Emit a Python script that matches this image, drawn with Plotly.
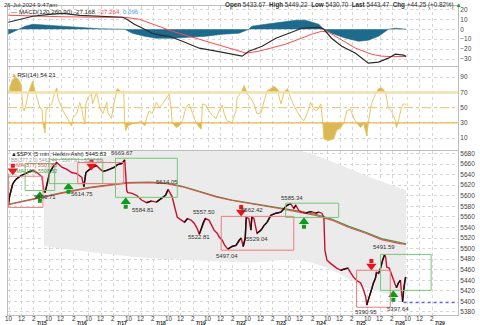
import plotly.graph_objects as go
from plotly.subplots import make_subplots

# ---------------- data (bar = 5-minute bar number counted from 7/12 9:30) ----------------
BARS_PER_DAY = 78
day_labels = ["7/12", "7/15", "7/16", "7/17", "7/18", "7/19", "7/22", "7/23", "7/24", "7/25", "7/26", "7/29"]
hour_labels = ["10", "12", "2"]
hour_bars = [6, 30, 54]

price_bar = [4, 7, 13, 19, 27, 37, 46, 52, 60, 66, 70, 72, 74, 76, 80, 85, 93, 99, 109, 119, 128, 138, 148, 152,
             156, 163, 169, 177, 183, 189, 197, 202, 212, 218, 226, 230, 232, 234, 236, 238, 245, 255, 265, 275,
             284, 294, 304, 312, 317, 321, 325, 329, 335, 343, 349, 355, 362, 368, 374, 378, 382, 386, 390, 397,
             403, 407, 413, 417, 423, 428, 434, 442, 450, 456, 460, 464, 468, 470, 475, 479, 481, 485, 489, 491,
             499, 505, 511, 518, 528, 538, 544, 550, 557, 563, 567, 573, 579, 587, 592, 598, 606, 612, 618, 622,
             624, 628, 635, 641, 647, 655, 661, 669, 674, 680, 686, 694, 700, 704, 706, 709, 715, 719, 723, 725,
             729, 733, 737, 741, 743, 745, 750, 754, 760, 764, 768, 772, 774, 776, 778, 780, 782, 783]
price_val = [5582, 5601, 5623, 5631, 5637, 5642, 5646, 5648, 5644, 5640, 5636, 5620, 5608, 5606, 5622, 5644, 5657,
             5663, 5654, 5650, 5644, 5642, 5635, 5617, 5644, 5650, 5654, 5657, 5652, 5646, 5648, 5650, 5654, 5659,
             5661, 5665, 5668, 5640, 5610, 5606, 5605, 5601, 5592, 5587, 5590, 5588, 5595, 5601, 5612, 5606, 5598,
             5582, 5559, 5554, 5550, 5557, 5554, 5548, 5538, 5527, 5538, 5550, 5557, 5554, 5544, 5535, 5529, 5522,
             5516, 5506, 5499, 5504, 5506, 5516, 5520, 5504, 5520, 5559, 5557, 5535, 5560, 5557, 5540, 5529, 5535,
             5544, 5550, 5563, 5567, 5569, 5576, 5582, 5585, 5576, 5582, 5572, 5569, 5567, 5569, 5570, 5567, 5569,
             5567, 5559, 5497, 5478, 5472, 5467, 5463, 5459, 5461, 5463, 5455, 5446, 5440, 5435, 5421, 5408, 5393,
             5403, 5421, 5435, 5444, 5455, 5453, 5463, 5478, 5489, 5484, 5465, 5463, 5453, 5437, 5426, 5435, 5440,
             5416, 5399, 5420, 5435, 5446, 5443.47]

ma_bar = [4, 46, 105, 163, 236, 281, 314, 345, 378, 411, 442, 475, 508, 540, 573, 606, 637, 671, 704, 735, 768, 783]
ma377_val = [5583, 5592, 5604, 5615, 5624, 5625, 5623, 5617, 5607, 5598, 5591, 5586, 5580, 5575, 5569, 5563, 5554,
             5540, 5529, 5517, 5510, 5507.80]
ma190_val = [5584, 5593, 5605, 5616, 5625, 5626, 5624, 5618, 5608, 5599, 5592, 5587, 5581, 5576, 5571, 5565, 5556,
             5542, 5531, 5519, 5511, 5508.82]

bb_bar = [74, 150, 215, 280, 360, 420, 480, 573, 632, 700, 740, 783]
bb_upper = [5655, 5667, 5678, 5692, 5705, 5705, 5700, 5686, 5667, 5640, 5625, 5610]
bb_lower = [5505, 5495, 5488, 5482, 5478, 5476, 5474, 5478, 5462, 5428, 5416, 5408]

macd_bar = [4, 27, 52, 85, 111, 144, 183, 228, 236, 251, 267, 286, 300, 319, 345, 378, 411, 442, 462, 475, 501, 528,
            553, 579, 612, 622, 637, 657, 684, 709, 729, 748, 762, 778, 783]
macd_val = [7, 10, 13, 15, 16, 14, 13, 12, 10, 5, 1, -4, -6, -7, -12, -19, -22, -25, -27, -22, -17, -9, -4, 1, 2, 0,
            -9, -17, -24, -34, -33, -29, -25, -26, -27.168]
signal_bar = [4, 52, 111, 183, 232, 261, 294, 325, 358, 391, 426, 456, 470, 495, 520, 547, 573, 598, 618, 631, 651,
              684, 715, 735, 758, 783]
signal_val = [14, 13, 12.5, 12, 12, 10, 4, -2, -7, -12, -17, -22, -24, -22, -19, -15, -10, -5, -2, -3, -9, -19, -25,
              -27, -27.5, -27.264]
hist_bar = [4, 17, 27, 37, 52, 85, 119, 150, 183, 232, 247, 271, 294, 325, 358, 391, 423, 456, 475, 481, 508, 534,
            567, 586, 612, 622, 637, 665, 690, 709, 729, 743, 748, 762, 778, 783]
hist_val = [-5, -2, 0, 3, 5, 4, 3, 2, 0.5, 0, -4, -7, -9, -9, -8, -7, -5, -4, 0, 3, 5, 7, 9, 9, 5, 0, -4, -9, -12,
            -11, -7, -2, 0, 1, 0.1, 0.096]

rsi_bar = [4, 11, 17, 23, 29, 31, 33, 35, 39, 43, 48, 52, 56, 60, 62, 66, 70, 72, 76, 78, 82, 89, 95, 99, 101, 105,
           111, 119, 124, 128, 130, 138, 144, 148, 150, 154, 156, 160, 167, 169, 177, 183, 189, 197, 199, 206, 212,
           218, 226, 230, 232, 234, 238, 247, 257, 265, 271, 275, 280, 286, 294, 300, 306, 313, 319, 323, 325, 333,
           339, 345, 352, 358, 364, 372, 378, 382, 384, 391, 397, 403, 411, 417, 423, 427, 432, 442, 450, 452, 460,
           466, 470, 472, 479, 485, 491, 499, 505, 511, 518, 524, 530, 538, 544, 550, 557, 563, 569, 577, 583, 589,
           596, 602, 608, 616, 620, 622, 631, 641, 647, 655, 661, 667, 674, 680, 686, 694, 700, 706, 709, 715, 723,
           729, 735, 743, 748, 754, 762, 764, 768, 774, 778, 783]
rsi_val = [68, 85, 90, 88, 81, 68, 49, 46, 55, 68, 79, 85, 72, 63, 57, 50, 48, 29, 17, 46, 50, 55, 70, 76, 63, 57,
           46, 37, 30, 26, 36, 42, 57, 48, 40, 29, 55, 63, 68, 55, 70, 50, 42, 57, 43, 36, 59, 75, 70, 72, 30, 20,
           26, 29, 30, 33, 26, 37, 46, 42, 57, 50, 55, 63, 68, 50, 30, 24, 26, 33, 50, 55, 43, 30, 24, 22, 55, 53,
           46, 40, 36, 46, 53, 42, 33, 30, 46, 63, 70, 79, 72, 68, 62, 55, 42, 43, 59, 72, 75, 78, 75, 55, 70, 75,
           63, 53, 46, 36, 33, 42, 57, 48, 46, 55, 29, 9, 7, 9, 20, 24, 30, 46, 48, 37, 30, 24, 29, 13, 30, 55, 68,
           75, 76, 70, 50, 46, 33, 24, 33, 50, 55, 54.21]

# pattern boxes: start bar, end bar, low, high, kind
box_start = [-40, 4, 37, 84, 140, 214, 421, 547, 686, 733]
box_end = [4, 72, 95, 189, 230, 335, 563, 651, 752, 832]
box_low = [5582, 5578, 5610, 5623, 5623, 5597, 5497, 5559, 5389, 5421]
box_high = [5642, 5637, 5661, 5669, 5663, 5671, 5561, 5586, 5459, 5489]
box_kind = ["buy", "sell", "buy", "buy", "sell", "buy", "sell", "buy", "sell", "buy"]

# signal arrows
sell_bar = [13, 167, 460, 715]
sell_price = [5650, 5659, 5572, 5470]
buy_bar = [66, 122, 234, 583, 758]
buy_price = [5597, 5614, 5586, 5548, 5410]

# swing labels
swing_bar = [76, 148, 226, 267, 315, 378, 388, 432, 481, 491, 559, 740, 705, 768]
swing_price = [5609.71, 5614.75, 5669.67, 5584.81, 5614.05, 5522.81, 5557.50, 5497.04, 5562.42, 5529.04, 5585.34,
               5491.59, 5390.95, 5397.64]
swing_side = ["low", "low", "high", "low", "high", "mid", "high", "low", "high", "low", "high", "high", "low", "low"]
last_low = 5397.64

# ---------------- figure ----------------
W, H = 480, 325
ML, MR, MT, MB = 8, 20, 5, 10
PH = H - MT - MB
XR = [3.5, 884.6]
R_MACD = [-36.8, 23.3]
R_RSI = [-5.1, 103.5]
R_PX = [5374.3, 5685.5]
D_PX = [0.0, 0.532]
D_RSI = [0.535, 0.803]
D_MACD = [0.806, 1.0]
px_per_unit = (D_PX[1] - D_PX[0]) * PH / (R_PX[1] - R_PX[0])

FONT = "Liberation Sans, Arial, sans-serif"
GRID = "#d6d6d6"
BORDER = "#bdbdbd"

fig = make_subplots(rows=3, cols=1, shared_xaxes=True, vertical_spacing=0.003)

# MACD
fig.add_trace(go.Scatter(x=hist_bar, y=hist_val, mode="lines", line=dict(color="#1d6a8c", width=0.6),
                         fill="tozeroy", fillcolor="#1d6a8c", hoverinfo="skip"), row=1, col=1)
fig.add_trace(go.Scatter(x=signal_bar, y=signal_val, mode="lines", line=dict(color="#ff4a4a", width=1),
                         hoverinfo="skip"), row=1, col=1)
fig.add_trace(go.Scatter(x=macd_bar, y=macd_val, mode="lines", line=dict(color="#2a2a2a", width=1.2),
                         hoverinfo="skip"), row=1, col=1)

# RSI
rsi_hi = [max(v, 70) for v in rsi_val]
rsi_lo = [min(v, 30) for v in rsi_val]
fig.add_trace(go.Scatter(x=rsi_bar, y=[70] * len(rsi_bar), mode="lines", line=dict(width=0), hoverinfo="skip"),
              row=2, col=1)
fig.add_trace(go.Scatter(x=rsi_bar, y=rsi_hi, mode="lines", line=dict(width=0), fill="tonexty",
                         fillcolor="#dbb856", hoverinfo="skip"), row=2, col=1)
fig.add_trace(go.Scatter(x=rsi_bar, y=[30] * len(rsi_bar), mode="lines", line=dict(width=0), hoverinfo="skip"),
              row=2, col=1)
fig.add_trace(go.Scatter(x=rsi_bar, y=rsi_lo, mode="lines", line=dict(width=0), fill="tonexty",
                         fillcolor="#dbb856", hoverinfo="skip"), row=2, col=1)
fig.add_trace(go.Scatter(x=rsi_bar, y=rsi_val, mode="lines", line=dict(color="#e8c666", width=1),
                         hoverinfo="skip"), row=2, col=1)

# Price: Bollinger band
fig.add_trace(go.Scatter(x=bb_bar, y=bb_lower, mode="lines", line=dict(width=0, shape="spline"),
                         hoverinfo="skip"), row=3, col=1)
fig.add_trace(go.Scatter(x=bb_bar, y=bb_upper, mode="lines", line=dict(width=0, shape="spline"), fill="tonexty",
                         fillcolor="#ebebeb", hoverinfo="skip"), row=3, col=1)
# moving averages
fig.add_trace(go.Scatter(x=ma_bar, y=ma190_val, mode="lines", line=dict(color="#3f9b3f", width=1.2),
                         hoverinfo="skip"), row=3, col=1)
fig.add_trace(go.Scatter(x=ma_bar, y=ma377_val, mode="lines", line=dict(color="#e25050", width=1.2),
                         hoverinfo="skip"), row=3, col=1)

# boxes
for b0, b1, lo, hi, k in zip(box_start, box_end, box_low, box_high, box_kind):
    fig.add_shape(type="rect", xref="x3", yref="y3", x0=b0, x1=b1, y0=lo, y1=hi,
                  line=dict(color="#77c777" if k == "buy" else "#f07a7a", width=1), fillcolor="rgba(0,0,0,0)")

# price line: red everywhere, black over rising segments
fig.add_trace(go.Scatter(x=price_bar, y=price_val, mode="lines", line=dict(color="#c8102e", width=1.4),
                         hoverinfo="skip"), row=3, col=1)
ux, uy = [], []
for i in range(1, len(price_bar)):
    if price_val[i] > price_val[i - 1]:
        ux += [price_bar[i - 1], price_bar[i], None]
        uy += [price_val[i - 1], price_val[i], None]
fig.add_trace(go.Scatter(x=ux, y=uy, mode="lines", line=dict(color="#111111", width=1.4), connectgaps=False,
                         hoverinfo="skip"), row=3, col=1)

# last low dotted line
fig.add_shape(type="line", xref="x3", yref="y3", x0=price_bar[-4], x1=XR[1], y0=last_low, y1=last_low,
              line=dict(color="#3b3bf0", width=1, dash="dot"))

# arrows
u = 1.0 / px_per_unit
fig.add_trace(go.Scatter(x=sell_bar, y=[p + 3.5 * u for p in sell_price], mode="markers",
                         marker=dict(symbol="square", size=4, color="#e8141c", line=dict(width=0)),
                         hoverinfo="skip"), row=3, col=1)
fig.add_trace(go.Scatter(x=sell_bar, y=[p - 1.5 * u for p in sell_price], mode="markers",
                         marker=dict(symbol="triangle-down", size=9, color="#e8141c", line=dict(width=0)),
                         hoverinfo="skip"), row=3, col=1)
fig.add_trace(go.Scatter(x=buy_bar, y=[p - 3.5 * u for p in buy_price], mode="markers",
                         marker=dict(symbol="square", size=4, color="#0f9a1f", line=dict(width=0)),
                         hoverinfo="skip"), row=3, col=1)
fig.add_trace(go.Scatter(x=buy_bar, y=[p + 1.5 * u for p in buy_price], mode="markers",
                         marker=dict(symbol="triangle-up", size=9, color="#0f9a1f", line=dict(width=0)),
                         hoverinfo="skip"), row=3, col=1)

# swing labels
for b, p, s in zip(swing_bar, swing_price, swing_side):
    if s == "high":
        ya, ys = "bottom", 1
    elif s == "low":
        ya, ys = "top", -1
    else:
        ya, ys = "middle", 0
    fig.add_annotation(x=b, y=p, xref="x3", yref="y3", text=f"{p:.2f}", showarrow=False, yanchor=ya, yshift=ys,
                       font=dict(family=FONT, size=6, color="#333333"))

# RSI reference lines
fig.add_shape(type="line", xref="x2 domain", yref="y2", x0=0, x1=1, y0=70, y1=70,
              line=dict(color="#f2e0ad", width=2.5))
fig.add_shape(type="line", xref="x2 domain", yref="y2", x0=0, x1=1, y0=50, y1=50,
              line=dict(color="#e9c56a", width=1, dash="dashdot"))
fig.add_shape(type="line", xref="x2 domain", yref="y2", x0=0, x1=1, y0=30, y1=30,
              line=dict(color="#eab94a", width=1.3))

# axes
tickvals = [d * BARS_PER_DAY + h for d in range(len(day_labels) - 1) for h in hour_bars]
for ax in ["xaxis", "xaxis2", "xaxis3"]:
    fig.layout[ax].update(range=XR, tickvals=tickvals, showticklabels=False, ticks="", showgrid=True,
                          gridcolor=GRID, griddash="dot", gridwidth=1, zeroline=False, showline=True,
                          linecolor=BORDER, linewidth=1, mirror=True)
yfont = dict(family=FONT, size=6.5, color="#444444")
fig.layout.yaxis.update(domain=D_MACD, range=R_MACD, tickvals=[-30, -20, -10, 0, 10, 20], side="right",
                        tickfont=yfont, showgrid=True, gridcolor=GRID, griddash="dot", zeroline=False,
                        showline=True, linecolor=BORDER, mirror=True, ticks="")
fig.layout.yaxis2.update(domain=D_RSI, range=R_RSI, tickvals=[10, 30, 50, 70, 90], side="right",
                         tickfont=yfont, showgrid=True, gridcolor=GRID, griddash="dot", zeroline=False,
                         showline=True, linecolor=BORDER, mirror=True, ticks="")
fig.layout.yaxis3.update(domain=D_PX, range=R_PX, tickvals=list(range(5380, 5681, 20)), side="right",
                         tickfont=yfont, showgrid=True, gridcolor=GRID, griddash="dot", zeroline=False,
                         showline=True, linecolor=BORDER, mirror=True, ticks="")

# bottom time labels
for d in range(len(day_labels) - 1):
    for h, lab in zip(hour_bars, hour_labels):
        fig.add_annotation(x=d * BARS_PER_DAY + h, y=-3.2 / PH, xref="x3", yref="paper", text=lab,
                           showarrow=False, yanchor="middle", font=dict(family=FONT, size=6.3, color="#333333"))
for d in range(1, len(day_labels)):
    fig.add_annotation(x=d * BARS_PER_DAY - 8, y=-8.4 / PH, xref="x3", yref="paper", text=f"<b>{day_labels[d]}</b>",
                       showarrow=False, yanchor="middle", font=dict(family=FONT, size=5, color="#222222"))


def px_x(p):
    return (p - ML) / (W - ML - MR)


def px_y(p):
    return (H - MB - p) / PH


# header
fig.add_annotation(x=px_x(2), y=px_y(3.5), xref="paper", yref="paper", text="26-Jul-2024 9:47am", showarrow=False,
                   xanchor="left", yanchor="middle", font=dict(family=FONT, size=6, color="#333333"))
fig.add_annotation(x=px_x(466), y=px_y(3.5), xref="paper", yref="paper",
                   text="<b>Open</b> 5433.67  <b>High</b> 5449.22  <b>Low</b> 5430.70  <b>Last</b> 5443.47  "
                        "<b>Chg</b> +44.25 (+0.82%) <span style='color:#1a9a2a'>▲</span>",
                   showarrow=False, xanchor="right", yanchor="middle",
                   font=dict(family=FONT, size=6.3, color="#333333"))
# panel legends
fig.add_annotation(x=px_x(9), y=px_y(11), xref="paper", yref="paper",
                   text="— MACD(120,260,90) -27.168<span style='color:#ff4a4a'>, -27.264</span>"
                        "<span style='color:#4fa3d9'>, 0.096</span>",
                   showarrow=False, xanchor="left", yanchor="middle", font=dict(family=FONT, size=6.2, color="#222"))
fig.add_annotation(x=px_x(9), y=px_y(74), xref="paper", yref="paper",
                   text="<span style='color:#d9b450'>▲</span>RSI(14) 54.21",
                   showarrow=False, xanchor="left", yanchor="middle", font=dict(family=FONT, size=6.2, color="#222"))
fig.add_annotation(x=px_x(9), y=px_y(153), xref="paper", yref="paper",
                   text="▲$SPX (5 min, Heikin-Ashi) 5445.83",
                   showarrow=False, xanchor="left", yanchor="middle", font=dict(family=FONT, size=5.8, color="#222"))
fig.add_annotation(x=px_x(9), y=px_y(159), xref="paper", yref="paper",
                   text="BB(377,2.0) 5463.44 - 5587.91 - 5507.80",
                   showarrow=False, xanchor="left", yanchor="middle", font=dict(family=FONT, size=5, color="#9a9a9a"))
fig.add_annotation(x=px_x(9), y=px_y(165), xref="paper", yref="paper",
                   text="—MA(377) 5507.80",
                   showarrow=False, xanchor="left", yanchor="middle", font=dict(family=FONT, size=5.3, color="#e25050"))
fig.add_annotation(x=px_x(9), y=px_y(171), xref="paper", yref="paper",
                   text="—MA(190) 5508.82",
                   showarrow=False, xanchor="left", yanchor="middle", font=dict(family=FONT, size=5.3, color="#3f9b3f"))

fig.update_layout(width=W, height=H, margin=dict(l=ML, r=MR, t=MT, b=MB), showlegend=False,
                  plot_bgcolor="white", paper_bgcolor="white")

fig.write_html("out.html")
